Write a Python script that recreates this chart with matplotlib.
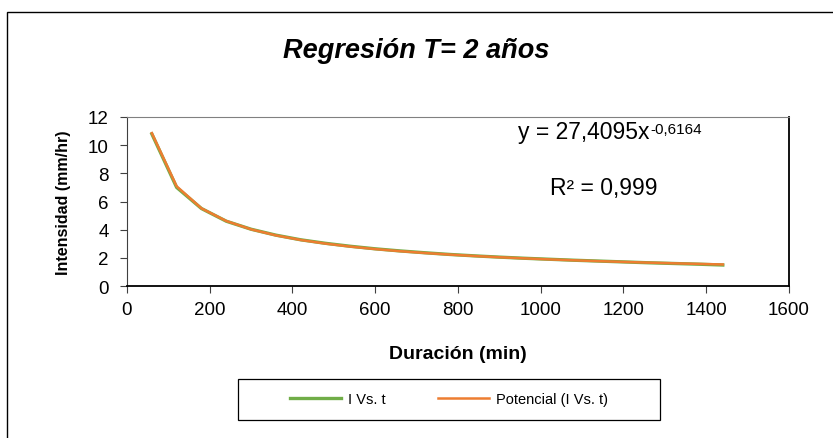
import numpy as np
import matplotlib
matplotlib.use("Agg")
import matplotlib.pyplot as plt
from matplotlib.patches import Rectangle

plt.rcParams['font.family'] = ['Liberation Sans', 'DejaVu Sans']

# datos
duracion = [60, 120, 180, 240, 300, 360, 420, 480, 540, 600, 660, 720,
            780, 840, 900, 960, 1020, 1080, 1140, 1200, 1260, 1320, 1380, 1440]
intensidad = [10.8, 7.0, 5.5, 4.60, 4.03, 3.61, 3.28, 3.03, 2.82, 2.64, 2.49, 2.36,
              2.24, 2.14, 2.05, 1.97, 1.90, 1.83, 1.77, 1.71, 1.65, 1.60, 1.55, 1.49]
x_ticks = [0, 200, 400, 600, 800, 1000, 1200, 1400, 1600]
y_ticks = [0, 2, 4, 6, 8, 10, 12]

# linea de tendencia potencial (ajuste log-log)
t = np.array(duracion, dtype=float)
i = np.array(intensidad)
b, loga = np.polyfit(np.log(t), np.log(i), 1)
ajuste = np.exp(loga) * t ** b

W, H = 833, 439
fig = plt.figure(figsize=(W / 100, H / 100), dpi=100)
ax = fig.add_axes([127 / W, 1 - 287 / H, (789 - 127) / W, (287 - 118) / H])

ax.plot(t, i, color='#70AD47', lw=2.4, label='I Vs. t')
ax.plot(t, ajuste, color='#ED7D31', lw=1.8, label='Potencial (I Vs. t)')

ax.set_xlim(0, 1600)
ax.set_ylim(0, 12)
ax.set_xticks(x_ticks)
ax.set_yticks(y_ticks)
ax.tick_params(labelsize=13.5, direction='out', length=5, width=0.8, colors='#404040',
               labelcolor='black')
ax.tick_params(axis='x', pad=6)
ax.tick_params(axis='y', pad=8)
ax.spines['top'].set_color('#808080')
ax.spines['left'].set_color('#404040')
ax.spines['right'].set_color('black')
ax.spines['bottom'].set_color('black')
for s in ['bottom', 'right']:
    ax.spines[s].set_linewidth(1.3)

ax.set_xlabel('Duración (min)', fontsize=14, fontweight='bold', labelpad=19)
ax.set_ylabel('Intensidad (mm/hr)', fontsize=11.5, fontweight='bold', labelpad=12)

fig.text(0.5, 1 - 58 / H, 'Regresión T= 2 años', ha='center', va='baseline',
         fontsize=19.5, fontweight='bold', style='italic')

eq = fig.text(518 / W, 1 - 133 / H, 'y = 27,4095x', ha='left', va='center', fontsize=16.5)
ax.annotate('-0,6164', xy=(1.0, 1.0), xycoords=eq, xytext=(0.5, -1.0),
            textcoords='offset points', ha='left', va='top', fontsize=11)
fig.text(550 / W, 1 - 189 / H, 'R² = 0,999', ha='left', va='center', fontsize=16.5)

# leyenda con marco dibujado aparte
fig.legend(loc='center', bbox_to_anchor=(449 / W, 1 - 400 / H), ncol=2, fontsize=10.5,
           frameon=False, handlelength=3.5, columnspacing=3.6, handletextpad=0.5)
fig.patches.append(Rectangle((238 / W, 1 - 421 / H), (660 - 238) / W, 41 / H,
                             transform=fig.transFigure, fill=False,
                             edgecolor='black', lw=0.9))

fig.patches.append(Rectangle((7 / W, -0.1), 1.1, 1.1 - 13 / H, transform=fig.transFigure,
                             fill=False, edgecolor='black', lw=1.0, clip_on=False))

fig.savefig('out.png', dpi=100)
